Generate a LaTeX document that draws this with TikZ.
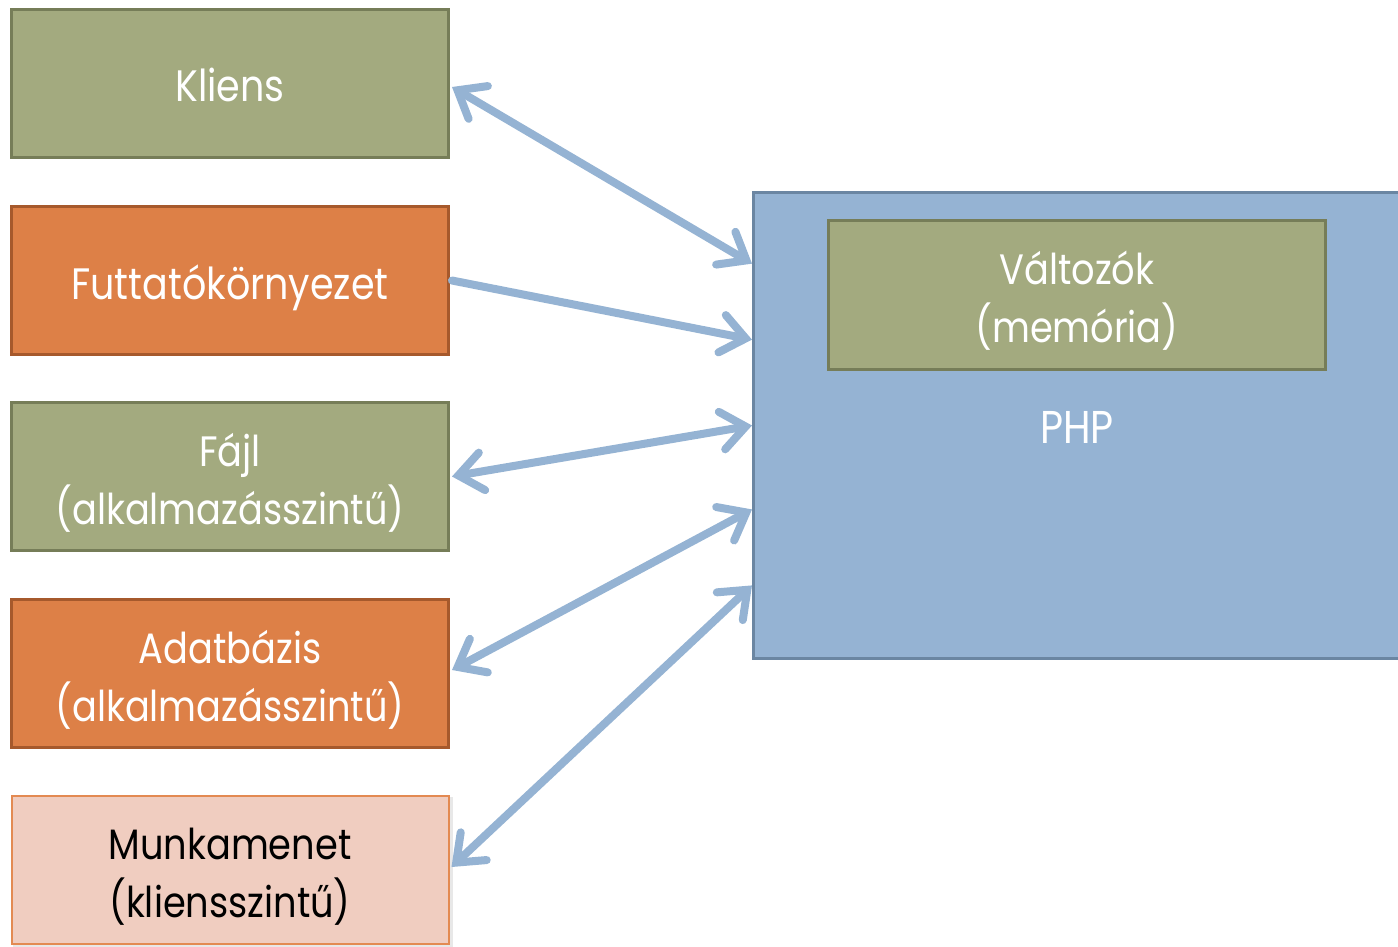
\documentclass[tikz,border=0pt]{standalone}
\usepackage{fontspec}
\setmainfont[FakeStretch=0.865]{Poppins}
\usetikzlibrary{arrows.meta,calc}
\definecolor{olivefill}{HTML}{A3AA7F}
\definecolor{olivedraw}{HTML}{767D58}
\definecolor{orangefill}{HTML}{DD8047}
\definecolor{orangedraw}{HTML}{A6592C}
\definecolor{pinkfill}{HTML}{F0CDC0}
\definecolor{pinkdraw}{HTML}{E38A52}
\definecolor{bluefill}{HTML}{95B3D3}
\definecolor{bluedraw}{HTML}{6B86A2}
\definecolor{linkcol}{HTML}{95B3D3}
\tikzset{
  box/.style={rectangle, line width=3pt, minimum width=437pt, minimum height=148pt,
    inner sep=0pt, align=center, font=\fontsize{44}{58}\selectfont,
    text height=37pt, text depth=0pt},
  twolines/.style={font=\fontsize{42.5}{58}\selectfont, text height=95pt, text depth=0pt},
  greenbox/.style={box, fill=olivefill, draw=olivedraw, text=white},
  orangebox/.style={box, fill=orangefill, draw=orangedraw, text=white},
  pinkbox/.style={box, fill=pinkfill, draw=pinkdraw, line width=2pt, text=black},
  link/.style={draw=linkcol, line width=8pt, line cap=round,
    >={Straight Barb[length=24pt, width=38pt, line cap=round]}},
}
\begin{document}
\begin{tikzpicture}[x=1pt, y=-1pt]
  \useasboundingbox (0,0) rectangle (1398,947);
  \clip (0,0) rectangle (1398,947);
  % storage boxes on the left
  \node[greenbox]  (kliens)  at (230,83.5)  {Kliens};
  \node[orangebox] (futtato) at (230,280.5) {Futtatókörnyezet};
  \node[greenbox, twolines]  (fajl)  at (230,476.5) {Fájl\\(alkalmazásszintű)};
  \node[orangebox, twolines] (adatb) at (230,673.5) {Adatbázis\\(alkalmazásszintű)};
  % session box with a soft shadow
  \fill[black!9] (13,797) rectangle (453,948);
  \node[pinkbox, twolines] (munka) at (230,869.5) {Munkamenet\\(kliensszintű)};
  % PHP block, running past the right edge
  \node[rectangle, fill=bluefill, draw=bluedraw, line width=3pt, minimum width=700pt,
        minimum height=466pt, anchor=north west] (php) at (752,190.5) {};
  \node[greenbox, twolines, minimum width=497pt, minimum height=149pt] (valt) at (1077,295)
        {Változók\\(memória)};
  \node[text=white, font=\fontsize{46}{58}\selectfont, anchor=base, inner sep=0pt]
        (phplabel) at (1077,443) {PHP};
  % connectors
  \draw[link, <->] ($(kliens.east)+(2,3.5)$) -- ($(php.north west)!0.156!(php.south west)$);
  \draw[link, ->] ($(futtato.east)+(2,0)$) -- ($(php.north west)!0.318!(php.south west)$);
  \draw[link, <->] ($(fajl.east)+(2,0)$) -- ($(php.north west)!0.501!(php.south west)$);
  \draw[link, <->] ($(adatb.east)+(2,-3.5)$) -- ($(php.north west)!0.680!(php.south west)$);
  \draw[link, <->] ($(munka.east)+(2,-2.5)$) -- ($(php.north west)!0.842!(php.south west)$);
\end{tikzpicture}
\end{document}
